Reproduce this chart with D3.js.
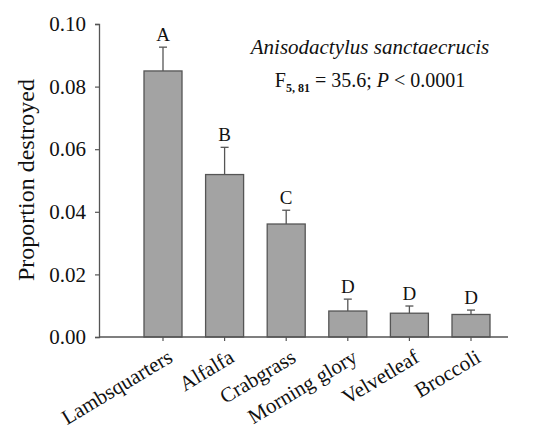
<!DOCTYPE html>
<html>
<head>
<meta charset="utf-8">
<script src="https://cdn.jsdelivr.net/npm/d3@7"></script>
<style>
  body { margin: 0; background: #fff; }
  text { font-family: "Liberation Serif", "Times New Roman", serif; fill: #111; }
</style>
</head>
<body>
<div id="chart"></div>
<script>
// plant hosts and mean proportion destroyed (+ SE)
const hosts = ["Lambsquarters", "Alfalfa", "Crabgrass", "Morning glory", "Velvetleaf", "Broccoli"];
const means = [0.0850, 0.0519, 0.0361, 0.0083, 0.0076, 0.0072];
const errTops = [0.0926, 0.0606, 0.0405, 0.0121, 0.0099, 0.0086];
const groups = ["A", "B", "C", "D", "D", "D"];
const yTicks = [0, 0.02, 0.04, 0.06, 0.08, 0.10];

const width = 542, height = 435;
const axisColor = "#555";

const svg = d3.select("#chart").append("svg")
    .attr("width", width)
    .attr("height", height);

// scales
const x = d3.scaleBand()
    .domain(hosts)
    .range([132.2, 501.8])
    .paddingInner(0.383)
    .paddingOuter(0.1915);

const y = d3.scaleLinear()
    .domain([0, 0.10])
    .range([337, 24]);

// Y axis
const yAxis = svg.append("g")
    .attr("transform", "translate(99,0)")
    .call(d3.axisLeft(y).tickValues(yTicks).tickFormat(d3.format(".2f")).tickSize(4).tickPadding(9));
yAxis.attr("font-family", "Liberation Serif, serif");
yAxis.select(".domain").attr("stroke", axisColor).attr("stroke-width", 1.3);
yAxis.selectAll(".tick line").attr("stroke", axisColor).attr("stroke-width", 1.2);
yAxis.selectAll(".tick text")
    .style("font-family", "'Liberation Serif', serif")
    .style("font-size", "21px")
    .attr("fill", "#111");

// bars
svg.append("g").selectAll("rect")
    .data(hosts)
    .enter()
    .append("rect")
    .attr("x", d => x(d))
    .attr("y", (d, i) => y(means[i]))
    .attr("width", x.bandwidth())
    .attr("height", (d, i) => y(0) - y(means[i]))
    .attr("fill", "#a3a3a3")
    .attr("stroke", "#555")
    .attr("stroke-width", 1.3);

// error bars (upper only)
const eb = svg.append("g").attr("stroke", "#555").attr("stroke-width", 1.3);
hosts.forEach((h, i) => {
    const cx = x(h) + x.bandwidth() / 2;
    eb.append("line")
        .attr("x1", cx).attr("x2", cx)
        .attr("y1", y(means[i])).attr("y2", y(errTops[i]));
    eb.append("line")
        .attr("x1", cx - 4).attr("x2", cx + 4)
        .attr("y1", y(errTops[i])).attr("y2", y(errTops[i]));
});

// group letters
svg.append("g").selectAll("text")
    .data(hosts)
    .enter()
    .append("text")
    .attr("x", d => x(d) + x.bandwidth() / 2)
    .attr("y", (d, i) => y(errTops[i]) - 6.5)
    .attr("text-anchor", "middle")
    .style("font-size", "19px")
    .text((d, i) => groups[i]);

// X axis
const xAxisG = svg.append("g");
xAxisG.append("line")
    .attr("x1", 99).attr("x2", 508)
    .attr("y1", y(0)).attr("y2", y(0))
    .attr("stroke", axisColor).attr("stroke-width", 1.3);
hosts.forEach(h => {
    const cx = x(h) + x.bandwidth() / 2;
    xAxisG.append("line")
        .attr("x1", cx).attr("x2", cx)
        .attr("y1", y(0)).attr("y2", y(0) + 4)
        .attr("stroke", axisColor).attr("stroke-width", 1.2);
    xAxisG.append("text")
        .attr("transform", "translate(" + (cx + 11) + "," + 361 + ") rotate(-31)")
        .attr("text-anchor", "end")
        .style("font-size", "21px")
        .text(h);
});

// Y title
svg.append("text")
    .attr("transform", "translate(34,180) rotate(-90)")
    .attr("text-anchor", "middle")
    .style("font-size", "24px")
    .text("Proportion destroyed");

// annotation
svg.append("text")
    .attr("x", 370).attr("y", 54)
    .attr("text-anchor", "middle")
    .style("font-size", "21px")
    .style("font-style", "italic")
    .text("Anisodactylus sanctaecrucis");

const stat = svg.append("text")
    .attr("x", 370).attr("y", 87)
    .attr("text-anchor", "middle")
    .style("font-size", "20px");
stat.append("tspan").text("F");
stat.append("tspan").attr("dy", 5).style("font-size", "12px").style("font-weight", "bold").text("5, 81");
stat.append("tspan").attr("dy", -5).text(" = 35.6; ");
stat.append("tspan").style("font-style", "italic").text("P");
stat.append("tspan").text(" < 0.0001");
</script>
</body>
</html>
